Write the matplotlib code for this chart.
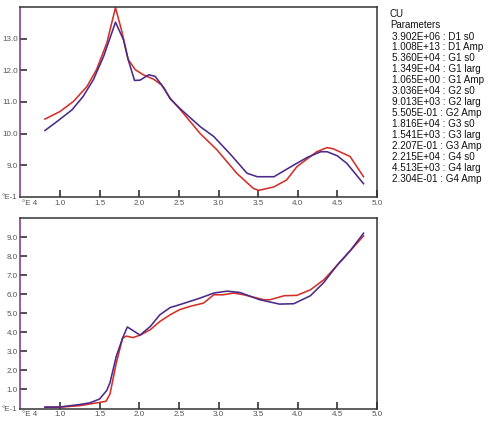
import matplotlib.pyplot as plt

# top panel (values in E-1)
top_x_fit = [0.81, 0.96, 1.15, 1.29, 1.42, 1.55, 1.70, 1.80, 1.86, 1.94, 2.01, 2.12, 2.20,
             2.31, 2.39, 2.52, 2.77, 2.94, 3.15, 3.36, 3.49, 3.70, 3.95, 4.12, 4.29, 4.37,
             4.50, 4.62, 4.83]
top_y_fit = [10.10, 10.38, 10.75, 11.17, 11.70, 12.44, 13.52, 12.97, 12.34, 11.68, 11.69, 11.86,
             11.81, 11.45, 11.10, 10.78, 10.22, 9.91, 9.35, 8.75, 8.64, 8.64, 9.01, 9.25, 9.43,
             9.43, 9.30, 9.06, 8.42]
top_x_meas = [0.81, 1.00, 1.17, 1.34, 1.46, 1.59, 1.70, 1.78, 1.86, 1.95, 2.05, 2.18, 2.28,
              2.39, 2.52, 2.77, 2.98, 3.23, 3.44, 3.51, 3.70, 3.86, 3.99, 4.24, 4.37, 4.45,
              4.66, 4.83]
top_y_meas = [10.46, 10.70, 11.02, 11.49, 12.02, 12.86, 13.98, 13.23, 12.34, 12.02, 11.86, 11.72,
              11.54, 11.12, 10.75, 10.00, 9.49, 8.75, 8.27, 8.21, 8.32, 8.54, 8.96, 9.43, 9.56,
              9.52, 9.28, 8.64]

# bottom panel
bot_x_fit = [0.81, 1.00, 1.25, 1.38, 1.50, 1.59, 1.63, 1.71, 1.79, 1.85, 2.01, 2.14, 2.26,
             2.39, 2.51, 2.77, 2.94, 3.11, 3.27, 3.52, 3.77, 3.95, 4.16, 4.33, 4.50, 4.67, 4.83]
bot_y_fit = [0.07, 0.08, 0.21, 0.30, 0.50, 0.95, 1.35, 2.74, 3.70, 4.28, 3.85, 4.31, 4.92,
             5.30, 5.45, 5.80, 6.06, 6.16, 6.09, 5.71, 5.48, 5.50, 5.92, 6.62, 7.54, 8.33, 9.20]
bot_x_meas = [0.81, 1.00, 1.25, 1.50, 1.58, 1.63, 1.71, 1.79, 1.84, 1.92, 2.01, 2.14, 2.26,
              2.39, 2.51, 2.64, 2.81, 2.94, 3.06, 3.19, 3.32, 3.57, 3.65, 3.83, 3.99, 4.16,
              4.33, 4.58, 4.83]
bot_y_meas = [0.07, 0.07, 0.15, 0.32, 0.38, 0.75, 2.39, 3.70, 3.80, 3.72, 3.85, 4.14, 4.57,
              4.92, 5.19, 5.36, 5.53, 5.97, 5.97, 6.06, 5.97, 5.71, 5.71, 5.92, 5.94, 6.23,
              6.76, 7.89, 9.06]

xticks = [1.0, 1.5, 2.0, 2.5, 3.0, 3.5, 4.0, 4.5, 5.0]
top_yticks = [9.0, 10.0, 11.0, 12.0, 13.0]
bot_yticks = [1.0, 2.0, 3.0, 4.0, 5.0, 6.0, 7.0, 8.0, 9.0]

params = ["3.902E+06 : D1 s0", "1.008E+13 : D1 Amp", "5.360E+04 : G1 s0",
          "1.349E+04 : G1 larg", "1.065E+00 : G1 Amp", "3.036E+04 : G2 s0",
          "9.013E+03 : G2 larg", "5.505E-01 : G2 Amp", "1.816E+04 : G3 s0",
          "1.541E+03 : G3 larg", "2.207E-01 : G3 Amp", "2.215E+04 : G4 s0",
          "4.513E+03 : G4 larg", "2.304E-01 : G4 Amp"]

plt.rcParams['font.family'] = ['Liberation Sans', 'DejaVu Sans']

PURPLE = '#4b2a8a'
RED = '#d3302a'

fig = plt.figure(figsize=(4.89, 4.37), dpi=100)
W, H = 489, 437
ax1 = fig.add_axes([20.4 / W, (H - 197) / H, (377 - 20.4) / W, 190 / H])
ax2 = fig.add_axes([20.4 / W, (H - 408.5) / H, (377 - 20.4) / W, 190.5 / H])

for ax, xf, yf, xm, ym, yt, ylim in [
        (ax1, top_x_fit, top_y_fit, top_x_meas, top_y_meas, top_yticks, (8, 14)),
        (ax2, bot_x_fit, bot_y_fit, bot_x_meas, bot_y_meas, bot_yticks, (0, 10))]:
    ax.plot(xm, ym, color=RED, lw=1.15)
    ax.plot(xf, yf, color=PURPLE, lw=1.15)
    ax.set_xlim(0.5, 5.0)
    ax.set_ylim(*ylim)
    ax.set_xticks(xticks)
    ax.set_xticklabels(['%.1f' % v for v in xticks])
    ax.set_yticks(yt)
    ax.set_yticklabels(['%.1f' % v for v in yt])
    ax.tick_params(direction='in', length=5, width=1.2, color='#333333',
                   labelsize=5.8, labelcolor='#555555', pad=2)
    for s in ['top', 'right', 'bottom']:
        ax.spines[s].set_color('#333333')
        ax.spines[s].set_linewidth(1.1)
    ax.spines['left'].set_color('#7d2f86')
    ax.spines['left'].set_linewidth(1.1)
    ax.text(-0.008, -0.005, '°E-1', transform=ax.transAxes, ha='right', va='center',
            fontsize=5.8, color='#555555')
    ax.text(0.005, -0.015, '°E 4', transform=ax.transAxes, ha='left', va='top',
            fontsize=5.8, color='#555555')

fig.text(390 / W, 1 - 14 / H, 'CU', fontsize=7, color='#111111', va='center', ha='left')
fig.text(390 / W, 1 - 25 / H, 'Parameters', fontsize=7, color='#111111', va='center', ha='left')
for i, p in enumerate(params):
    fig.text(392 / W, 1 - (36.5 + 10.95 * i) / H, p, fontsize=7.1, color='#111111',
             va='center', ha='left')

fig.savefig('out.png', dpi=100)
